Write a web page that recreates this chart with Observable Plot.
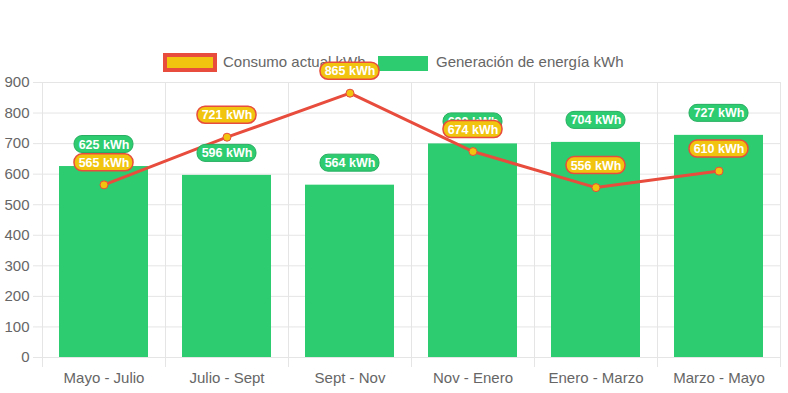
<!DOCTYPE html>
<html><head><meta charset="utf-8">
<script src="https://cdn.jsdelivr.net/npm/d3@7"></script>
<script src="https://cdn.jsdelivr.net/npm/@observablehq/plot@0.6"></script>
<style>
body{margin:0;background:#fff;font-family:"Liberation Sans",Arial,sans-serif;}
#wrap{position:relative;width:788px;height:393px;}
.leg{position:absolute;color:#666;font-size:15px;line-height:18px;white-space:nowrap;}
#chart{position:absolute;left:0;top:0;}
</style></head><body>
<div id="wrap">
 <div class="leg" style="left:163px;top:53px;width:54px;height:19px;box-sizing:border-box;border:4px solid #e74c3c;background:#f1c40f"></div>
 <div class="leg" style="left:223px;top:53px;">Consumo actual kWh</div>
 <div class="leg" style="left:378px;top:56px;width:50px;height:15px;background:#2ecc71"></div>
 <div class="leg" style="left:436px;top:53px;">Generación de energía kWh</div>
 <div id="chart"></div>
</div>
<script>
const categories = ["Mayo - Julio","Julio - Sept","Sept - Nov","Nov - Enero","Enero - Marzo","Marzo - Mayo"];
const generacion = [625, 596, 564, 699, 704, 727];
const consumo = [565, 721, 865, 674, 556, 610];
const yTicks = [0,100,200,300,400,500,600,700,800,900];

const data = categories.map((c,i)=>({cat:c, gen:generacion[i], cons:consumo[i]}));
const GREEN = "#2ecc71", YELLOW = "#f1c40f", RED = "#e74c3c", GRID = "#e5e5e5";
const half = 61.5;

const chart = Plot.plot({
  width: 788, height: 393,
  marginLeft: 42, marginRight: 8, marginTop: 82, marginBottom: 36,
  style: {background: "transparent", fontFamily: "'Liberation Sans', Arial, sans-serif", fontSize: "15px", color: "#666", overflow: "visible"},
  x: {domain: categories, paddingInner: 0.28, paddingOuter: 0.14, tickSize: 0, tickPadding: 15, label: null},
  y: {domain: [0, 900], ticks: yTicks, tickSize: 0, tickPadding: 13, label: null},
  marks: [
    Plot.ruleY(yTicks, {y: d=>d, stroke: GRID, insetLeft: -9}),
    Plot.ruleX(categories, {x: d=>d, dx: -half, stroke: GRID, insetBottom: -10}),
    Plot.ruleX([categories[categories.length-1]], {x: d=>d, dx: half, stroke: GRID, insetBottom: -10}),
    Plot.barY(data, {x: "cat", y: "gen", fill: GREEN}),
    Plot.line(data, {x: "cat", y: "cons", stroke: RED, strokeWidth: 3}),
    Plot.dot(data, {x: "cat", y: "cons", r: 4, fill: YELLOW, stroke: RED, strokeWidth: 1}),
    Plot.barY(data, {x: "cat", y1: "gen", y2: "gen", insetLeft: 15, insetRight: 15, insetTop: -8.5, insetBottom: -8.5, dy: -22, rx: 8, fill: GREEN, stroke: "#27ae60", strokeWidth: 1}),
    Plot.text(data, {x: "cat", y: "gen", text: d=>`${d.gen} kWh`, dy: -22, fill: "white", fontWeight: "bold", fontSize: 12.5}),
    Plot.barY(data, {x: "cat", y1: "cons", y2: "cons", insetLeft: 15, insetRight: 15, insetTop: -8.5, insetBottom: -8.5, dy: -22, rx: 8, fill: YELLOW, stroke: RED, strokeWidth: 1.5}),
    Plot.text(data, {x: "cat", y: "cons", text: d=>`${d.cons} kWh`, dy: -22, fill: "white", fontWeight: "bold", fontSize: 12.5})
  ]
});
document.getElementById("chart").appendChild(chart);
</script>
</body></html>
